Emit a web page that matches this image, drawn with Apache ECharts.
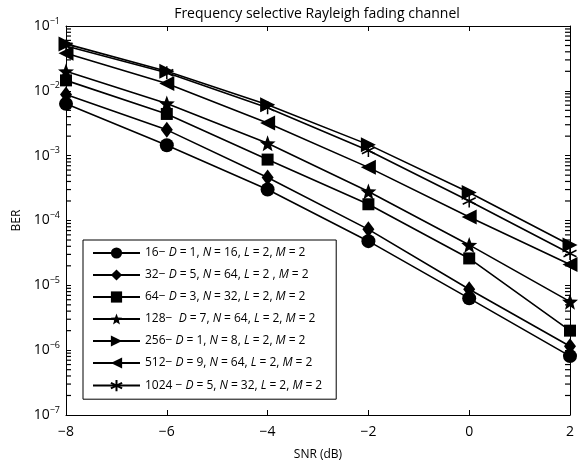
<!DOCTYPE html>
<html>
<head>
<meta charset="utf-8">
<script src="https://cdn.jsdelivr.net/npm/echarts@6/dist/echarts.min.js"></script>
<style>
html,body{margin:0;padding:0;background:#fff;}
#c{width:582px;height:466px;}
</style>
</head>
<body>
<div id="c"></div>
<script>
const snr = [-8, -6, -4, -2, 0, 2];
const xTicks = [-8, -6, -4, -2, 0, 2];
const yTicks = [1e-7, 1e-6, 1e-5, 1e-4, 1e-3, 1e-2, 1e-1];
const names = [
  '16\u2212 D = 1, N = 16, L = 2, M = 2',
  '32\u2212 D = 5, N = 64, L = 2 , M = 2',
  '64\u2212 D = 3, N = 32, L = 2, M = 2',
  '128\u2212  D = 7, N = 64, L = 2, M = 2',
  '256\u2212 D = 1, N = 8, L = 2, M = 2',
  '512\u2212 D = 9, N = 64, L = 2, M = 2',
  '1024 \u2212 D = 5, N = 32, L = 2, M = 2'
];
const ber16   = [6.3e-3, 1.45e-3, 3.0e-4, 4.8e-5, 6.3e-6, 8.1e-7];
const ber32   = [8.8e-3, 2.5e-3, 4.6e-4, 7.3e-5, 8.7e-6, 1.15e-6];
const ber64   = [1.45e-2, 4.4e-3, 8.7e-4, 1.78e-4, 2.6e-5, 2.0e-6];
const ber128  = [2.0e-2, 6.4e-3, 1.55e-3, 2.8e-4, 4.2e-5, 5.6e-6];
const ber256  = [5.3e-2, 2.0e-2, 6.1e-3, 1.48e-3, 2.7e-4, 4.2e-5];
const ber512  = [3.8e-2, 1.3e-2, 3.2e-3, 6.6e-4, 1.13e-4, 2.1e-5];
const ber1024 = [4.9e-2, 1.9e-2, 5.5e-3, 1.2e-3, 2.0e-4, 3.1e-5];
const minorTicks = [];
for (let e = -7; e < -1; e++) for (let m = 2; m <= 9; m++) minorTicks.push(m * Math.pow(10, e));

// star path
let sp = '';
for (let i = 0; i < 10; i++) {
  const r = i % 2 === 0 ? 1 : 0.42;
  const a = -Math.PI / 2 + i * Math.PI / 5;
  sp += (i === 0 ? 'M' : 'L') + (r * Math.cos(a)).toFixed(3) + ',' + (r * Math.sin(a)).toFixed(3) + ' ';
}
sp += 'Z';
const starPath = 'path://' + sp;
const astPath = 'path://M0,-1 L0,1 M-0.87,-0.5 L0.87,0.5 M-0.87,0.5 L0.87,-0.5';

const allData = [ber16, ber32, ber64, ber128, ber256, ber512, ber1024];
const symbols = [
  {symbol: 'circle', size: 14, rot: 0},
  {symbol: 'diamond', size: [12, 16], rot: 0},
  {symbol: 'rect', size: 12, rot: 0},
  {symbol: starPath, size: 16, rot: 0},
  {symbol: 'triangle', size: 15, rot: -90},
  {symbol: 'triangle', size: 15, rot: 90},
  {symbol: astPath, size: 13, rot: 0}
];

const series = allData.map((d, i) => ({
  name: names[i],
  type: 'line',
  data: snr.map((x, j) => [x, d[j]]),
  symbol: symbols[i].symbol,
  symbolSize: symbols[i].size,
  symbolRotate: symbols[i].rot,
  lineStyle: {color: '#000', width: 1.6},
  itemStyle: i === 6 ? {color: '#000', borderColor: '#000', borderWidth: 1.5} : {color: '#000', borderWidth: 0},
  z: 3
}));

// minor log ticks on left and right frame edges
[[xTicks[0], 2.5], [xTicks[xTicks.length - 1], -2.5]].forEach(function (p) {
  series.push({
    type: 'scatter',
    silent: true,
    data: minorTicks.map(v => [p[0], v]),
    symbol: 'rect',
    symbolSize: [5, 1.2],
    symbolOffset: [p[1], 0],
    itemStyle: {color: '#000', opacity: 1},
    clip: false,
    z: 5
  });
});

const chart = echarts.init(document.getElementById('c'), null, {renderer: 'canvas'});
const fam = '"Open Sans", "DejaVu Sans", sans-serif';
const supFmt = function (v) {
  const e = Math.round(Math.log10(v));
  return '{b|10}{s|' + (e < 0 ? '\u2212' + Math.abs(e) : e) + '}';
};
chart.setOption({
  animation: false,
  backgroundColor: '#fff',
  title: {
    text: 'Frequency selective Rayleigh fading channel',
    left: 312, top: 2, textAlign: 'center',
    textStyle: {fontFamily: fam, fontSize: 14, fontWeight: 'normal', color: '#000'}
  },
  grid: {left: 66, right: 12, top: 26, bottom: 50},
  legend: {
    data: names,
    orient: 'vertical',
    left: 83, top: 240,
    padding: [7, 14, 7, 9],
    itemGap: 10,
    itemWidth: 47,
    itemHeight: 14,
    backgroundColor: '#fff',
    borderColor: '#000',
    borderWidth: 1,
    selectedMode: false,
    formatter: function (name) {
      return name.replace(/\b([DNLM])\b/g, '{i|$1}').replace(/ = /g, '{e|=}');
    },
    textStyle: {
      fontFamily: fam, fontSize: 12, color: '#000',
      rich: {
        i: {fontFamily: fam, fontSize: 12, fontStyle: 'italic', color: '#000'},
        e: {fontFamily: fam, fontSize: 12, color: '#000', padding: [0, 3, 0, 3]}
      }
    }
  },
  xAxis: [{
    type: 'value', min: -8, max: 2, interval: 2,
    name: 'SNR (dB)', nameLocation: 'middle', nameGap: 34,
    nameTextStyle: {fontFamily: fam, fontSize: 12, color: '#000'},
    axisLine: {onZero: false, lineStyle: {color: '#000', width: 1}},
    axisTick: {inside: true, length: 5, lineStyle: {color: '#000'}},
    axisLabel: {fontFamily: fam, fontSize: 14, color: '#000', margin: 10,
      formatter: v => v < 0 ? '\u2212' + Math.abs(v) : String(v)},
    splitLine: {show: false}
  }, {
    type: 'value', min: -8, max: 2, interval: 2, position: 'top',
    axisLine: {onZero: false, lineStyle: {color: '#000', width: 1}},
    axisTick: {inside: true, length: 5, lineStyle: {color: '#000'}},
    axisLabel: {show: false}, splitLine: {show: false}
  }],
  yAxis: [{
    type: 'log', logBase: 10, min: 1e-7, max: 1e-1,
    name: 'BER', nameLocation: 'middle', nameGap: 41,
    nameTextStyle: {fontFamily: fam, fontSize: 12, color: '#000'},
    axisLine: {show: true, onZero: false, lineStyle: {color: '#000', width: 1}},
    axisTick: {inside: true, length: 5, lineStyle: {color: '#000'}},
    axisLabel: {
      formatter: supFmt, margin: 6,
      rich: {
        b: {fontFamily: fam, fontSize: 14, color: '#000'},
        s: {fontFamily: fam, fontSize: 9, color: '#000', padding: [0, 0, 10, 0]}
      }
    },
    splitLine: {show: false}
  }, {
    type: 'log', logBase: 10, min: 1e-7, max: 1e-1, position: 'right',
    axisLine: {show: true, onZero: false, lineStyle: {color: '#000', width: 1}},
    axisTick: {inside: true, length: 5, lineStyle: {color: '#000'}},
    axisLabel: {show: false}, splitLine: {show: false}
  }],
  series: series
});
</script>
</body>
</html>
